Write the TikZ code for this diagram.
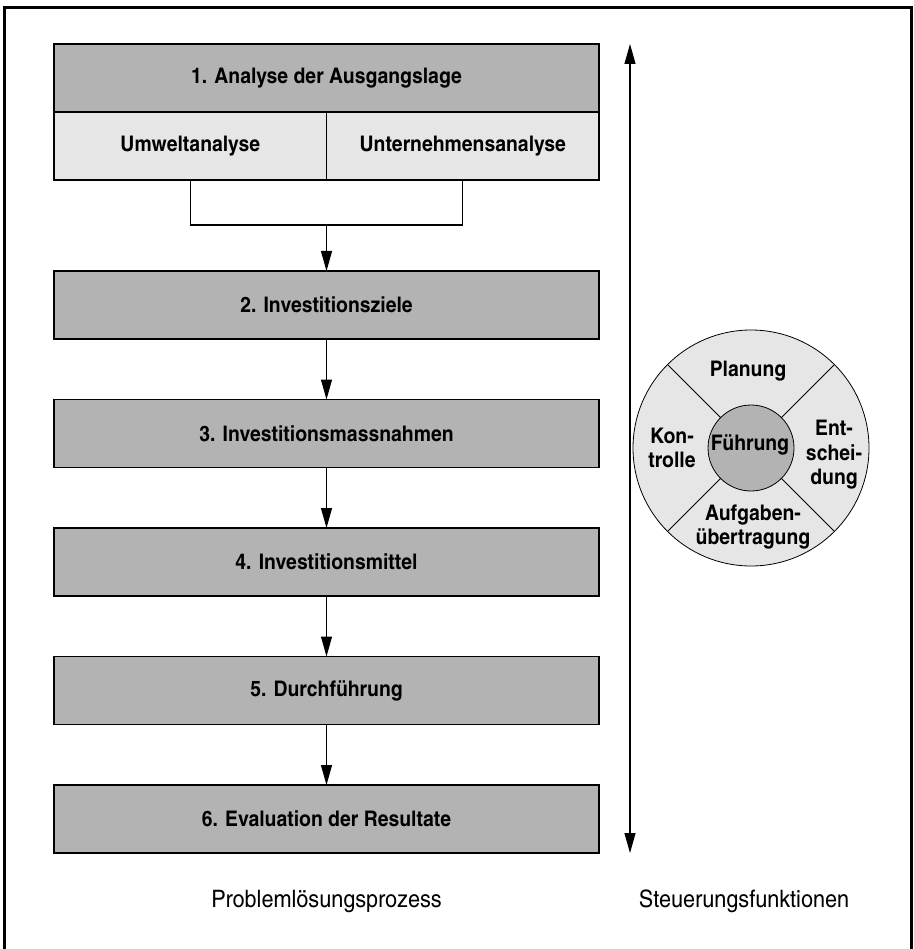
\documentclass[tikz,border=0pt]{standalone}
\usepackage{fontspec}
\setmainfont{texgyreheroscn}[Extension=.otf, UprightFont=*-regular, BoldFont=*-bold, FakeStretch=1.1]
\usetikzlibrary{arrows.meta}
\definecolor{boxdark}{RGB}{179,179,179}
\definecolor{boxlight}{RGB}{230,230,230}
\tikzset{
  every node/.style={inner sep=0pt, outer sep=0pt},
  boldtext/.style={font=\fontsize{21.5}{24.5}\selectfont\bfseries},
  stepbox/.style={boldtext, draw=black, line width=1.1pt, fill=boxdark, minimum width=545pt, minimum height=68pt},
  subbox/.style={boldtext, draw=black, line width=1.1pt, fill=boxlight, minimum width=272.5pt, minimum height=68pt},
  conn/.style={line width=1.1pt},
  arr/.style={conn, -{Triangle[length=20pt,width=11pt]}},
  darr/.style={conn, {Triangle[length=20pt,width=11pt]}-{Triangle[length=20pt,width=11pt]}},
  ctext/.style={boldtext, align=center},
  label/.style={font=\fontsize{24}{28}\selectfont, anchor=base},
}
\begin{document}
\begin{tikzpicture}[x=1pt, y=-1pt]
\useasboundingbox (0,0) rectangle (913,949);
% frame
\draw[line width=2.2pt] (4.5,955) -- (4.5,7.5) -- (911.5,7.5) -- (911.5,955);

% process boxes
\node[stepbox] (s1) at (326.5,78) {1. Analyse der Ausgangslage};
\node[subbox] (u1) at (190.25,146) {Umweltanalyse};
\node[subbox] (u2) at (462.75,146) {Unternehmensanalyse};
\node[stepbox] (s2) at (326.5,305) {2. Investitionsziele};
\node[stepbox] (s3) at (326.5,433.5) {3. Investitionsmassnahmen};
\node[stepbox] (s4) at (326.5,562) {4. Investitionsmittel};
\node[stepbox] (s5) at (326.5,690.5) {5. Durchführung};
\node[stepbox] (s6) at (326.5,819) {6. Evaluation der Resultate};

% bracket and arrows
\coordinate (m) at (326.5,225);
\draw[conn] (u1.south) -- ++(0,45) -| (u2.south);
\draw[arr] (m) -- (s2.north);
\draw[arr] (s2.south) -- (s3.north);
\draw[arr] (s3.south) -- (s4.north);
\draw[arr] (s4.south) -- (s5.north);
\draw[arr] (s5.south) -- (s6.north);

% control arrow
\coordinate (ctop) at (630,44);
\coordinate (cbot) at (630,853);
\draw[darr] (ctop) -- (cbot);

% circle
\node[circle, draw=black, line width=0.8pt, fill=boxlight, minimum size=236pt] (outer) at (751,448) {};
\node[circle, draw=black, line width=0.8pt, fill=boxdark, minimum size=86pt] (inner) at (751,448) {};
\foreach \a in {45,135,225,315}
  \draw[line width=0.8pt] (inner.\a) -- (outer.\a);
\node[ctext] (fu) at (750,445) {Führung};
\node[ctext] (pl) at (748,371) {Planung};
\node[ctext] (ko) at (672,448) {Kon-\\trolle};
\node[ctext] (en) at (834,455) {Ent-\\schei-\\dung};
\node[ctext] (au) at (753,527) {Aufgaben-\\übertragung};

% labels
\node[label] (lp) at (326.5,907) {Problemlösungsprozess};
\node[label] (ls) at (744,907) {Steuerungsfunktionen};
\end{tikzpicture}
\end{document}
